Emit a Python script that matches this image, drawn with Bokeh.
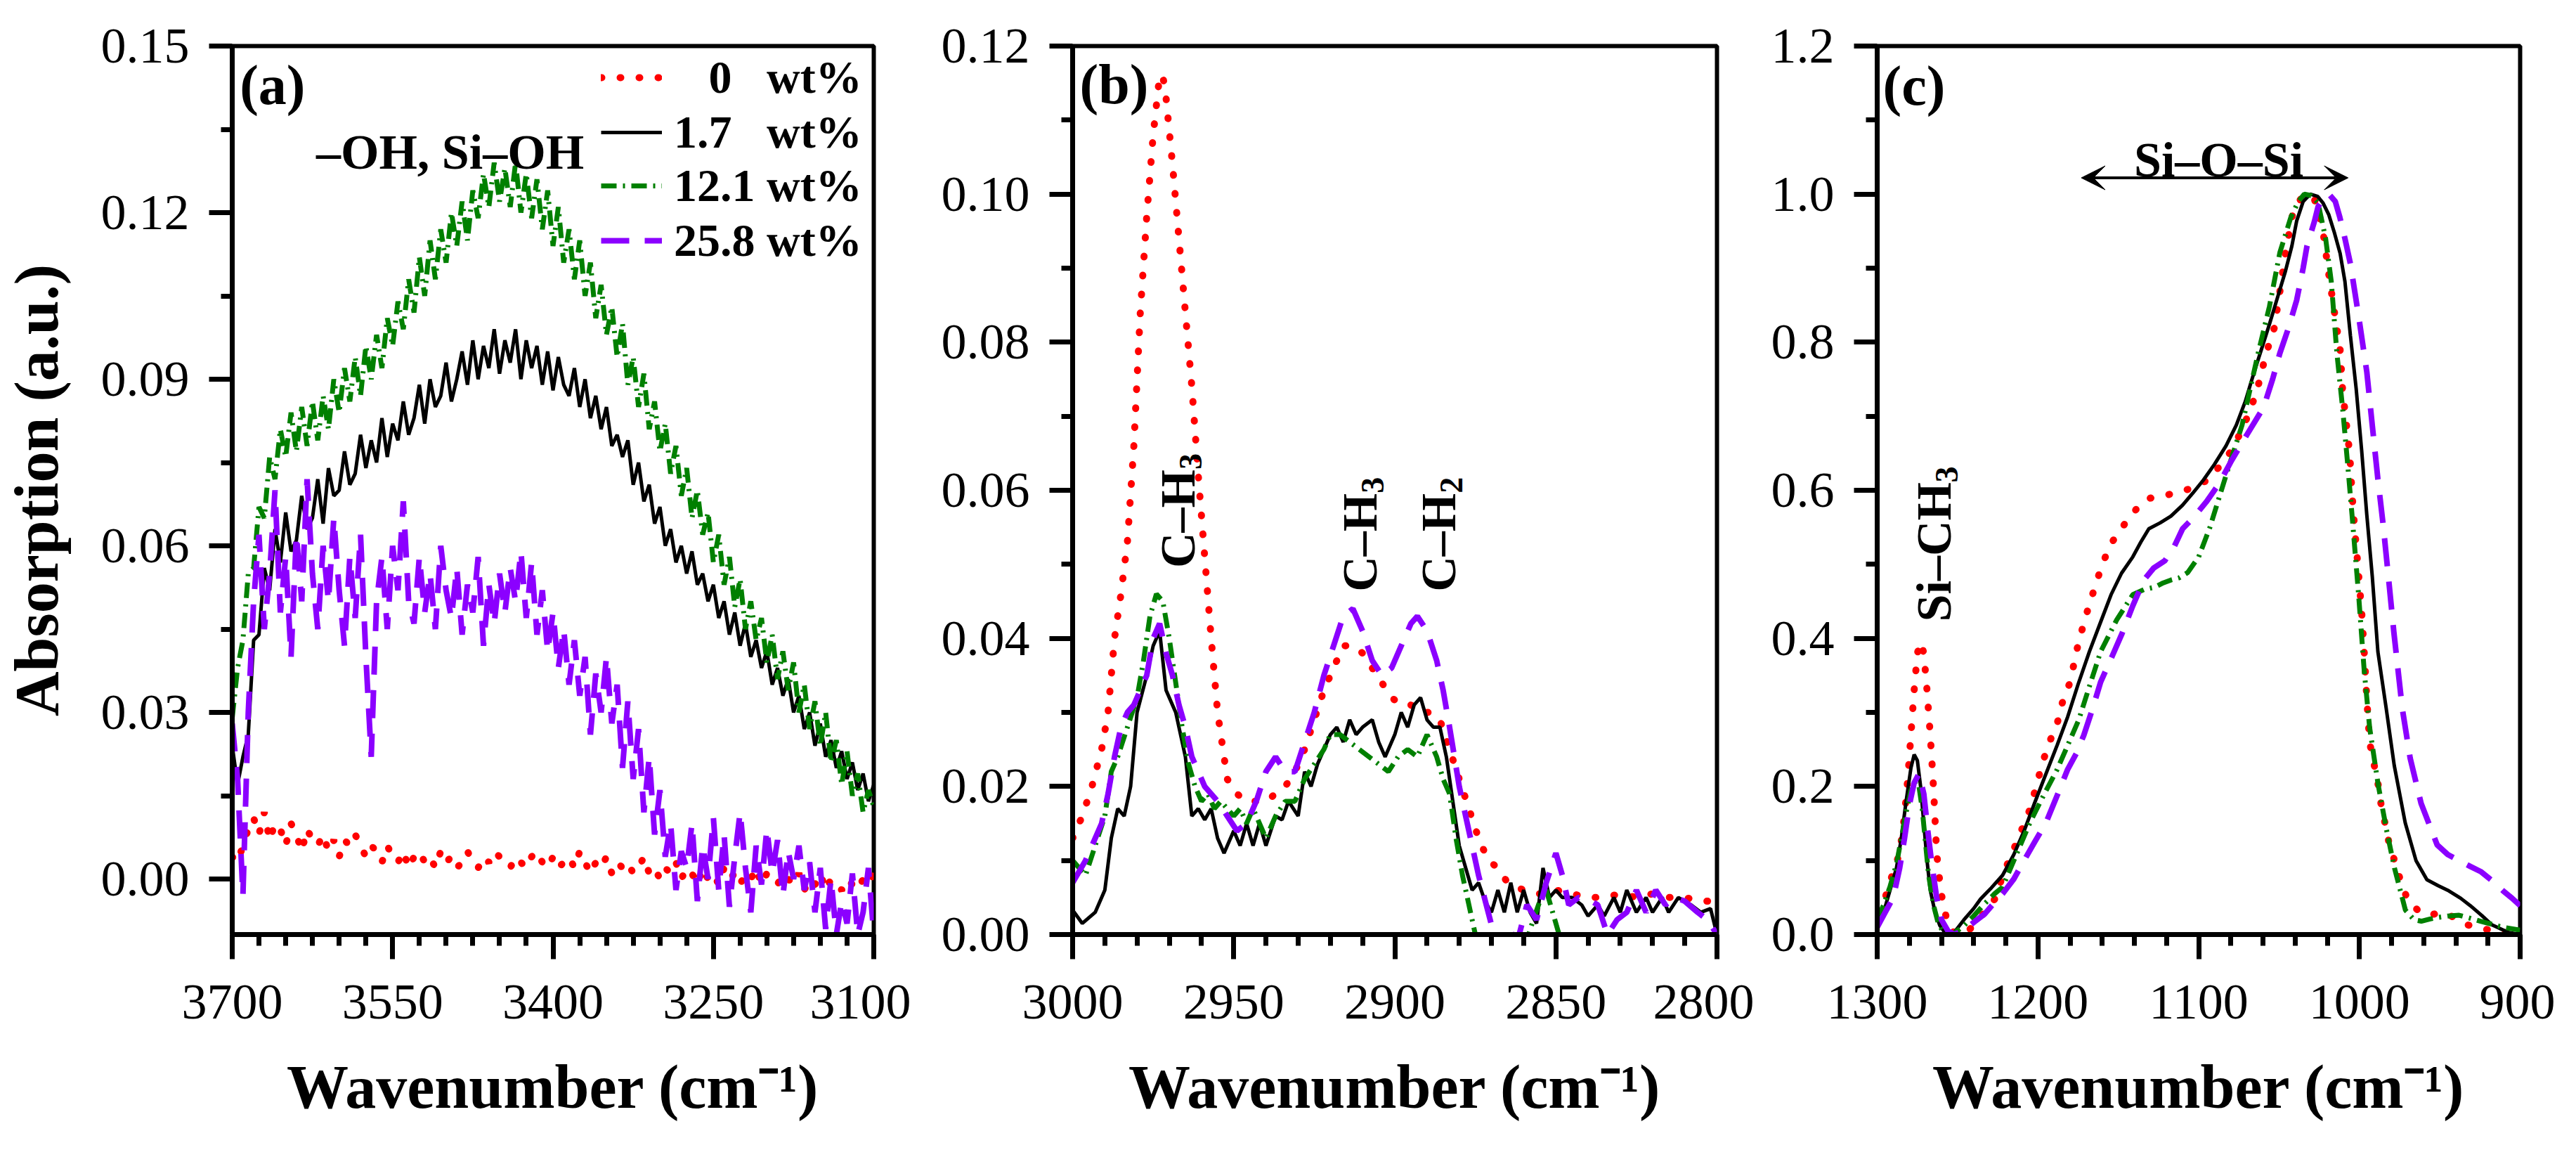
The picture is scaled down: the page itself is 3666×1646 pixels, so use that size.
from math import pi
from bokeh.plotting import figure
from bokeh.layouts import row
from bokeh.models import (Range1d, FixedTicker, PrintfTickFormatter, Legend, LegendItem,
                          Label, Arrow, VeeHead)
from bokeh.embed import file_html
from bokeh.resources import INLINE

FONT = "Liberation Serif"

# ---------------- panel (a): 3700-3100 cm-1 ----------------
wn_a = [3700, 3695, 3690, 3685, 3680, 3675, 3670, 3665, 3660, 3655,
        3650, 3645, 3640, 3635, 3630, 3625, 3620, 3615, 3610, 3605,
        3600, 3595, 3590, 3585, 3580, 3575, 3570, 3565, 3560, 3555,
        3550, 3545, 3540, 3535, 3530, 3525, 3520, 3515, 3510, 3505,
        3500, 3495, 3490, 3485, 3480, 3475, 3470, 3465, 3460, 3455,
        3450, 3445, 3440, 3435, 3430, 3425, 3420, 3415, 3410, 3405,
        3400, 3395, 3390, 3385, 3380, 3375, 3370, 3365, 3360, 3355,
        3350, 3345, 3340, 3335, 3330, 3325, 3320, 3315, 3310, 3305,
        3300, 3295, 3290, 3285, 3280, 3275, 3270, 3265, 3260, 3255,
        3250, 3245, 3240, 3235, 3230, 3225, 3220, 3215, 3210, 3205,
        3200, 3195, 3190, 3185, 3180, 3175, 3170, 3165, 3160, 3155,
        3150, 3145, 3140, 3135, 3130, 3125, 3120, 3115, 3110, 3105,
        3100]
a_0 = [0.004, 0.003, 0.006, 0.009, 0.011, 0.008, 0.012, 0.007, 0.010, 0.009,
       0.006, 0.010, 0.008, 0.005, 0.009, 0.007, 0.006, 0.008, 0.005, 0.007,
       0.004, 0.007, 0.006, 0.008, 0.006, 0.004, 0.006, 0.005, 0.003, 0.006,
       0.004, 0.003, 0.005, 0.002, 0.004, 0.005, 0.003, 0.004, 0.002, 0.005,
       0.003, 0.004, 0.002, 0.003, 0.005, 0.003, 0.002, 0.004, 0.003, 0.005,
       0.004, 0.003, 0.002, 0.004, 0.003, 0.002, 0.004, 0.005, 0.003, 0.002,
       0.004, 0.002, 0.003, 0.004, 0.002, 0.005, 0.003, 0.001, 0.003, 0.002,
       0.004, 0.001, 0.003, 0.002, 0.003, 0.001, 0.002, 0.004, 0.001, 0.002,
       0.000, 0.002, 0.001, 0.003, 0.000, 0.002, 0.001, -0.001, 0.002, 0.000,
       0.001, -0.001, 0.002, 0.000, 0.001, -0.001, 0.001, 0.000, 0.002, -0.001,
       0.001, 0.000, -0.001, 0.001, 0.000, -0.001, 0.001, -0.002, 0.000, -0.001,
       0.001, -0.002, 0.000, -0.001, -0.002, 0.000, -0.001, -0.002, 0.000, -0.001,
       0.001]
a_17 = [0.024, 0.017, 0.022, 0.026, 0.043, 0.044, 0.056, 0.052, 0.063, 0.057,
        0.066, 0.059, 0.061, 0.069, 0.063, 0.065, 0.072, 0.064, 0.074, 0.069,
        0.070, 0.077, 0.071, 0.073, 0.080, 0.074, 0.079, 0.075, 0.083, 0.076,
        0.082, 0.079, 0.086, 0.080, 0.083, 0.089, 0.082, 0.090, 0.085, 0.087,
        0.093, 0.086, 0.090, 0.095, 0.089, 0.097, 0.090, 0.096, 0.092, 0.099,
        0.091, 0.097, 0.093, 0.099, 0.090, 0.097, 0.092, 0.096, 0.089, 0.095,
        0.088, 0.094, 0.089, 0.087, 0.092, 0.085, 0.090, 0.083, 0.087, 0.081,
        0.085, 0.078, 0.080, 0.076, 0.079, 0.071, 0.075, 0.068, 0.071, 0.064,
        0.067, 0.060, 0.063, 0.057, 0.060, 0.055, 0.059, 0.053, 0.055, 0.050,
        0.053, 0.047, 0.050, 0.044, 0.048, 0.042, 0.046, 0.040, 0.043, 0.038,
        0.041, 0.035, 0.038, 0.033, 0.036, 0.030, 0.033, 0.027, 0.030, 0.024,
        0.028, 0.022, 0.025, 0.020, 0.023, 0.018, 0.021, 0.016, 0.019, 0.014,
        0.017]
a_121 = [0.029, 0.038, 0.043, 0.055, 0.056, 0.067, 0.065, 0.076, 0.072, 0.081,
         0.076, 0.084, 0.077, 0.085, 0.078, 0.086, 0.079, 0.087, 0.081, 0.090,
         0.084, 0.092, 0.086, 0.094, 0.087, 0.096, 0.090, 0.098, 0.092, 0.101,
         0.096, 0.104, 0.099, 0.108, 0.102, 0.112, 0.105, 0.115, 0.108, 0.117,
         0.111, 0.120, 0.114, 0.122, 0.115, 0.124, 0.119, 0.127, 0.121, 0.129,
         0.122, 0.128, 0.121, 0.129, 0.120, 0.127, 0.119, 0.126, 0.117, 0.124,
         0.114, 0.121, 0.111, 0.117, 0.108, 0.115, 0.105, 0.111, 0.101, 0.107,
         0.098, 0.103, 0.094, 0.100, 0.089, 0.094, 0.085, 0.091, 0.081, 0.086,
         0.077, 0.082, 0.073, 0.078, 0.069, 0.074, 0.065, 0.070, 0.062, 0.066,
         0.057, 0.062, 0.053, 0.058, 0.049, 0.054, 0.045, 0.050, 0.043, 0.047,
         0.039, 0.044, 0.036, 0.041, 0.034, 0.039, 0.030, 0.035, 0.027, 0.032,
         0.024, 0.030, 0.021, 0.025, 0.017, 0.023, 0.015, 0.019, 0.012, 0.016,
         0.013]
a_258 = [0.028, 0.018, -0.003, 0.030, 0.050, 0.062, 0.045, 0.055, 0.070, 0.048,
         0.058, 0.040, 0.062, 0.050, 0.072, 0.055, 0.045, 0.060, 0.050, 0.065,
         0.052, 0.042, 0.058, 0.047, 0.062, 0.040, 0.022, 0.050, 0.058, 0.045,
         0.060, 0.052, 0.068, 0.050, 0.046, 0.058, 0.048, 0.055, 0.045, 0.060,
         0.052, 0.047, 0.056, 0.044, 0.053, 0.048, 0.058, 0.042, 0.053, 0.046,
         0.055, 0.048, 0.056, 0.050, 0.059, 0.047, 0.057, 0.044, 0.052, 0.041,
         0.048, 0.038, 0.045, 0.035, 0.043, 0.033, 0.040, 0.026, 0.037, 0.030,
         0.040, 0.028, 0.035, 0.020, 0.032, 0.018, 0.027, 0.012, 0.022, 0.008,
         0.016, 0.004, 0.010, -0.002, 0.005, 0.002, 0.010, -0.004, 0.006, 0.000,
         0.011, -0.002, 0.008, -0.005, 0.004, 0.012, 0.002, -0.006, 0.006, -0.001,
         0.009, 0.001, 0.007, -0.003, 0.005, 0.000, 0.006, -0.002, 0.003, -0.006,
         0.002, -0.009, 0.000, -0.010, -0.004, -0.008, 0.001, -0.010, -0.006, 0.002,
         -0.010]

# ---------------- panel (b): 3000-2800 cm-1 ----------------
b_wn_0 = [3000, 2997, 2994, 2991, 2989, 2987, 2985, 2983, 2981, 2979, 2977, 2975, 2973, 2972, 2971,
          2969, 2967, 2965, 2963, 2961, 2959, 2957, 2955, 2952, 2949, 2946, 2943, 2940, 2937, 2934,
          2931, 2928, 2925, 2922, 2919, 2916, 2913, 2910, 2907, 2904, 2901, 2898, 2895, 2892, 2889,
          2886, 2883, 2880, 2877, 2874, 2871, 2868, 2865, 2860, 2855, 2850, 2845, 2840, 2835, 2830,
          2825, 2820, 2815, 2810, 2805, 2800]
b_abs_0 = [0.013, 0.016, 0.020, 0.025, 0.030, 0.040, 0.046, 0.053, 0.066, 0.084, 0.097, 0.108, 0.116, 0.116, 0.113,
           0.104, 0.094, 0.084, 0.074, 0.062, 0.051, 0.040, 0.030, 0.021, 0.019, 0.018, 0.018, 0.018, 0.019, 0.020,
           0.022, 0.025, 0.029, 0.033, 0.036, 0.039, 0.039, 0.038, 0.036, 0.034, 0.032, 0.031, 0.031, 0.030, 0.030,
           0.029, 0.025, 0.021, 0.017, 0.013, 0.010, 0.009, 0.007, 0.006, 0.0055, 0.006, 0.0055, 0.005, 0.005, 0.0055,
           0.005, 0.0055, 0.005, 0.005, 0.0045, 0.0045]
b_wn_17 = [3000, 2997, 2993, 2990, 2988, 2986, 2984, 2982, 2980, 2977, 2975, 2973, 2971, 2968, 2965,
           2963, 2961, 2959, 2957, 2955, 2953, 2950, 2948, 2946, 2944, 2942, 2940, 2937, 2935, 2933,
           2930, 2928, 2926, 2924, 2922, 2920, 2918, 2916, 2914, 2912, 2910, 2907, 2905, 2903, 2900,
           2898, 2896, 2894, 2892, 2890, 2888, 2886, 2884, 2882, 2880, 2878, 2876, 2874, 2872, 2870,
           2868, 2866, 2864, 2862, 2860, 2858, 2856, 2854, 2852, 2850, 2848, 2845, 2842, 2840, 2837,
           2835, 2832, 2830, 2828, 2825, 2822, 2820, 2817, 2815, 2812, 2808, 2805, 2802, 2800]
b_abs_17 = [0.0033, 0.0015, 0.003, 0.006, 0.013, 0.017, 0.016, 0.020, 0.030, 0.035, 0.039, 0.041, 0.033, 0.030, 0.024,
            0.016, 0.017, 0.0155, 0.017, 0.013, 0.011, 0.014, 0.012, 0.015, 0.012, 0.015, 0.012, 0.016, 0.0155, 0.018,
            0.016, 0.022, 0.020, 0.023, 0.025, 0.027, 0.028, 0.026, 0.029, 0.027, 0.028, 0.029, 0.026, 0.024, 0.027,
            0.030, 0.028, 0.031, 0.032, 0.029, 0.028, 0.028, 0.024, 0.018, 0.012, 0.009, 0.006, 0.007, 0.0045, 0.003,
            0.006, 0.003, 0.007, 0.003, 0.006, 0.003, 0.0015, 0.009, 0.005, 0.006, 0.005, 0.005, 0.004, 0.0025, 0.004,
            0.0025, 0.005, 0.003, 0.006, 0.003, 0.005, 0.003, 0.005, 0.003, 0.005, 0.004, 0.003, 0.0035, 0.0]
b_wn_121 = [3000, 2996, 2993, 2990, 2988, 2986, 2983, 2980, 2978, 2976, 2974, 2972, 2970, 2968, 2966,
            2964, 2962, 2960, 2958, 2956, 2954, 2950, 2948, 2946, 2944, 2942, 2940, 2937, 2934, 2931,
            2928, 2925, 2922, 2920, 2917, 2914, 2911, 2908, 2905, 2902, 2899, 2896, 2893, 2890, 2887,
            2885, 2883, 2881, 2879, 2877, 2875, 2873, 2870, 2865, 2860, 2857, 2855, 2853, 2851, 2849,
            2847, 2840, 2830, 2820, 2810, 2800]
b_abs_121 = [0.010, 0.008, 0.012, 0.016, 0.022, 0.024, 0.028, 0.032, 0.037, 0.043, 0.046, 0.045, 0.040, 0.034, 0.028,
             0.023, 0.020, 0.018, 0.019, 0.017, 0.018, 0.016, 0.017, 0.015, 0.017, 0.015, 0.013, 0.016, 0.018, 0.018,
             0.021, 0.023, 0.025, 0.027, 0.027, 0.026, 0.025, 0.024, 0.023, 0.022, 0.024, 0.025, 0.024, 0.027, 0.024,
             0.021, 0.019, 0.013, 0.008, 0.004, 0.0, -0.003, -0.005, -0.004, -0.002, 0.002, 0.0045, 0.006, 0.003, 0.0,
             -0.004, -0.006, -0.006, -0.006, -0.006, -0.006]
b_wn_258 = [3000, 2996, 2993, 2991, 2989, 2987, 2985, 2983, 2981, 2979, 2977, 2975, 2973, 2971, 2969,
            2967, 2965, 2963, 2961, 2959, 2957, 2955, 2952, 2949, 2946, 2943, 2940, 2937, 2934, 2931,
            2928, 2925, 2922, 2919, 2916, 2913, 2910, 2907, 2904, 2901, 2898, 2895, 2893, 2890, 2887,
            2885, 2883, 2880, 2877, 2874, 2871, 2868, 2865, 2862, 2859, 2856, 2853, 2850, 2848, 2846,
            2843, 2840, 2837, 2834, 2831, 2828, 2825, 2822, 2819, 2816, 2813, 2810, 2806, 2803, 2800]
b_abs_258 = [0.007, 0.010, 0.013, 0.015, 0.019, 0.024, 0.028, 0.030, 0.031, 0.033, 0.035, 0.040, 0.042, 0.038, 0.035,
             0.031, 0.028, 0.024, 0.022, 0.020, 0.019, 0.018, 0.016, 0.014, 0.015, 0.018, 0.022, 0.024, 0.022, 0.022,
             0.026, 0.030, 0.035, 0.039, 0.043, 0.044, 0.041, 0.037, 0.035, 0.036, 0.039, 0.042, 0.043, 0.041, 0.037,
             0.033, 0.028, 0.020, 0.014, 0.008, 0.003, -0.002, 0.001, -0.001, 0.004, 0.002, 0.007, 0.011, 0.008, 0.004,
             0.005, 0.0048, 0.004, 0.0, 0.002, 0.003, 0.006, 0.003, 0.006, 0.004, 0.005, 0.0045, 0.003, 0.002, 0.0]

# ---------------- panel (c): 1300-900 cm-1 ----------------
c_wn_0 = [1300, 1295, 1290, 1286, 1283, 1281, 1279, 1277, 1275, 1273, 1271, 1269, 1267, 1265, 1263,
          1261, 1259, 1256, 1253, 1249, 1245, 1240, 1235, 1230, 1226, 1222, 1217, 1212.6, 1205, 1197,
          1193, 1188, 1185, 1180, 1175, 1171.5, 1168, 1160, 1154.5, 1147.6, 1139, 1131, 1119, 1107, 1095,
          1085, 1078, 1068, 1063, 1058, 1053, 1049.5, 1046, 1041, 1036, 1032.6, 1028, 1025.7, 1022.6, 1019,
          1015.7, 1012, 1010.5, 1009, 1006, 1004.6, 1003, 1001, 998.5, 996.7, 995.3, 993.6, 988.3, 986.6, 981.7,
          978.2, 974, 969.5, 961, 955, 947.5, 942, 936, 924, 910.5, 900]
c_abs_0 = [0.03, 0.05, 0.085, 0.11, 0.16, 0.21, 0.27, 0.33, 0.38, 0.395, 0.38, 0.33, 0.27, 0.20, 0.11,
           0.07, 0.04, 0.015, 0.004, 0.0, 0.002, 0.012, 0.025, 0.04, 0.05, 0.08, 0.105, 0.128, 0.169, 0.233,
           0.259, 0.285, 0.312, 0.341, 0.392, 0.42, 0.446, 0.5, 0.528, 0.55, 0.574, 0.589, 0.594, 0.601, 0.613,
           0.637, 0.659, 0.707, 0.741, 0.785, 0.819, 0.868, 0.921, 0.979, 0.995, 1.0, 0.993, 0.979, 0.949, 0.891,
           0.843, 0.79, 0.737, 0.707, 0.649, 0.596, 0.55, 0.50, 0.433, 0.371, 0.315, 0.259, 0.202, 0.177, 0.125,
           0.1, 0.07, 0.044, 0.028, 0.027, 0.03, 0.024, 0.015, 0.008, 0.003, 0.0]
c_wn_17 = [1300, 1296, 1292, 1288, 1285, 1282, 1279, 1277, 1275, 1273, 1271, 1269, 1267, 1264, 1261,
           1258, 1255.8, 1252, 1246, 1240, 1235.7, 1229, 1222, 1215, 1208.6, 1202, 1195, 1188, 1181.5, 1175,
           1168, 1161, 1154.5, 1148, 1141, 1136, 1131, 1124, 1117.3, 1110, 1103.7, 1097, 1090.2, 1083, 1076.6,
           1071, 1066, 1061, 1056, 1051, 1046, 1042, 1039, 1035, 1030.6, 1026, 1022.6, 1019, 1015.7, 1012,
           1009, 1005.6, 1002, 998.6, 995.4, 992, 988.5, 983.3, 978.3, 971.5, 964.8, 958, 951, 944.4, 937,
           931, 924, 917.5, 907.5, 900]
c_abs_17 = [0.01, 0.03, 0.06, 0.09, 0.13, 0.18, 0.225, 0.243, 0.235, 0.2, 0.15, 0.1, 0.06, 0.03, 0.012,
            0.003, 0.0, 0.003, 0.02, 0.035, 0.048, 0.063, 0.08, 0.108, 0.14, 0.178, 0.217, 0.256, 0.294, 0.338,
            0.382, 0.422, 0.459, 0.488, 0.51, 0.53, 0.548, 0.556, 0.565, 0.58, 0.596, 0.614, 0.635, 0.66, 0.688,
            0.72, 0.756, 0.79, 0.824, 0.86, 0.896, 0.93, 0.964, 0.99, 1.0, 0.997, 0.988, 0.972, 0.949, 0.92,
            0.882, 0.809, 0.737, 0.654, 0.567, 0.484, 0.382, 0.305, 0.228, 0.151, 0.1, 0.074, 0.066, 0.059, 0.049,
            0.039, 0.026, 0.013, 0.003, 0.0]
c_wn_121 = [1300, 1296, 1292, 1288, 1285, 1282, 1279, 1276, 1274, 1272, 1270, 1268, 1265, 1262, 1259,
            1256, 1252, 1246, 1240, 1233, 1227, 1222, 1214, 1205, 1196, 1188, 1181, 1174.6, 1168, 1161,
            1151, 1141, 1134, 1127.4, 1122, 1117, 1112, 1106.8, 1100, 1093, 1083, 1073, 1063, 1056, 1049.5,
            1042.6, 1038, 1034.3, 1030, 1025.7, 1021, 1017.5, 1014, 1010.5, 1007.5, 1004.6, 1000.5, 997, 993.6, 988.3,
            983, 978.2, 974, 971.4, 966, 961.5, 956, 951.5, 945, 938, 931, 924.6, 911, 900]
c_abs_121 = [0.02, 0.04, 0.065, 0.095, 0.13, 0.165, 0.195, 0.207, 0.2, 0.17, 0.125, 0.08, 0.04, 0.015, 0.004,
             0.0, 0.002, 0.012, 0.025, 0.042, 0.055, 0.064, 0.105, 0.151, 0.19, 0.223, 0.258, 0.29, 0.335, 0.382,
             0.425, 0.459, 0.466, 0.469, 0.475, 0.479, 0.482, 0.489, 0.51, 0.55, 0.62, 0.688, 0.785, 0.848, 0.921,
             0.969, 0.99, 1.0, 0.998, 0.988, 0.94, 0.882, 0.785, 0.712, 0.64, 0.567, 0.459, 0.356, 0.279, 0.202,
             0.14, 0.09, 0.055, 0.033, 0.02, 0.018, 0.021, 0.023, 0.025, 0.026, 0.022, 0.018, 0.01, 0.006]
c_wn_258 = [1300, 1295, 1290, 1286, 1283, 1280, 1277, 1274, 1271, 1268.5, 1266.3, 1263, 1260, 1256, 1252,
            1246, 1239, 1233, 1228.7, 1222, 1215, 1208.6, 1202, 1195, 1188, 1181.5, 1176, 1171.5, 1166, 1161,
            1154, 1147.6, 1141, 1134, 1128, 1121, 1115, 1110, 1103.7, 1095, 1087, 1079.6, 1070, 1059.6, 1054,
            1049.5, 1044, 1039, 1035, 1032.6, 1028, 1025.7, 1022, 1019, 1015, 1012.2, 1009, 1005.6, 1000.4, 995.4,
            992, 988.5, 985.2, 982, 978.5, 973.3, 968.4, 961.6, 951.6, 945, 938, 931, 924.5, 917, 910.6,
            905, 900]
c_abs_258 = [0.01, 0.03, 0.05, 0.09, 0.13, 0.175, 0.205, 0.217, 0.19, 0.14, 0.1, 0.05, 0.02, 0.005, 0.0,
             0.006, 0.018, 0.028, 0.039, 0.055, 0.075, 0.1, 0.125, 0.151, 0.188, 0.223, 0.245, 0.269, 0.305, 0.341,
             0.375, 0.407, 0.444, 0.479, 0.495, 0.505, 0.525, 0.548, 0.562, 0.585, 0.61, 0.64, 0.675, 0.712, 0.75,
             0.785, 0.82, 0.857, 0.9, 0.93, 0.963, 0.983, 0.995, 1.0, 0.99, 0.969, 0.94, 0.906, 0.834, 0.76,
             0.688, 0.615, 0.553, 0.484, 0.407, 0.305, 0.238, 0.177, 0.121, 0.108, 0.1, 0.092, 0.085, 0.072, 0.059,
             0.049, 0.039]

labels = ["\u00a0\u00a0\u00a00\u00a0\u00a0\u00a0wt%", "1.7\u00a0\u00a0\u00a0wt%",
          "12.1\u00a0wt%", "25.8\u00a0wt%"]

styles = [
    dict(line_color="#ff0000", line_width=10, line_dash="1 26", line_cap="round"),
    dict(line_color="#000000", line_width=5),
    dict(line_color="#008000", line_width=7, line_dash="22 9 3 9"),
    dict(line_color="#8b00ff", line_width=8, line_dash="40 22"),
]


def make_fig(xr, yr, xt, xm, yt, ym, yfmt, left, right, fw, ylabel=""):
    p = figure(frame_width=fw, frame_height=1264,
               x_range=Range1d(xr[0], xr[1]), y_range=Range1d(yr[0], yr[1]),
               output_backend="svg", toolbar_location=None,
               min_border_left=left, min_border_right=right,
               min_border_top=65, min_border_bottom=301)
    p.xgrid.visible = False
    p.ygrid.visible = False
    p.outline_line_color = "black"
    p.outline_line_width = 6
    p.outline_line_alpha = 1.0
    p.background_fill_color = "white"
    p.border_fill_color = "white"
    p.xaxis.ticker = FixedTicker(ticks=xt, minor_ticks=xm)
    p.yaxis.ticker = FixedTicker(ticks=yt, minor_ticks=ym)
    p.yaxis.formatter = PrintfTickFormatter(format=yfmt)
    for ax in (p.xaxis[0], p.yaxis[0]):
        ax.axis_line_width = 7
        ax.major_tick_line_width = 7
        ax.minor_tick_line_width = 7
        ax.major_tick_line_color = "black"
        ax.minor_tick_line_color = "black"
        ax.major_tick_in = 0
        ax.minor_tick_in = 0
        ax.major_label_text_font = FONT
        ax.major_label_text_font_size = "72px"
        ax.major_label_text_color = "black"
        ax.axis_label_text_font = FONT
        ax.axis_label_text_font_style = "bold"
        ax.axis_label_text_font_size = "88px"
        ax.axis_label_text_color = "black"
    p.xaxis.major_tick_out = 35
    p.xaxis.minor_tick_out = 16
    p.yaxis.major_tick_out = 33
    p.yaxis.minor_tick_out = 16
    p.xaxis.major_label_standoff = 37
    p.yaxis.major_label_standoff = 28
    p.xaxis.axis_label = "Wavenumber (cm\u207b\u00b9)"
    p.xaxis.axis_label_standoff = 46
    if ylabel:
        p.yaxis.axis_label = ylabel
        p.yaxis.axis_label_standoff = 40
    return p


def label(p, x, y, text, size, **kw):
    p.add_layout(Label(x=x, y=y, text=text, text_font=FONT, text_font_style="bold",
                       text_font_size=size, text_color="black", **kw))


# ---- panel (a)
pa = make_fig((3700, 3100), (-0.01, 0.15), [3700, 3550, 3400, 3250, 3100],
              [3675, 3650, 3625, 3600, 3575, 3525, 3500, 3475, 3450, 3425, 3375, 3350, 3325,
               3300, 3275, 3225, 3200, 3175, 3150, 3125],
              [0.0, 0.03, 0.06, 0.09, 0.12, 0.15], [0.015, 0.045, 0.075, 0.105, 0.135],
              "%.2f", 326, 53, 913, ylabel="Absorption (a.u.)")
rs = []
for ys, st in zip([a_0, a_17, a_121, a_258], styles):
    rs.append(pa.line(wn_a, ys, **st))
# one single-row legend box per series so every row sits at its own height
legend_rows_y = [1181, 1103, 1027, 949]
for lab, r, ly in zip(labels, rs, legend_rows_y):
    pa.add_layout(Legend(items=[LegendItem(label=lab, renderers=[r])],
                         location=(525, ly), glyph_width=87, glyph_height=60, label_height=60,
                         label_standoff=17, spacing=0, padding=0, margin=0,
                         border_line_alpha=0, background_fill_alpha=0,
                         label_text_font=FONT, label_text_font_style="bold",
                         label_text_font_size="66px", label_text_color="black"))
label(pa, 3693, 0.1486, "(a)", "80px", text_baseline="top", text_align="left")
label(pa, 3371, 0.1309, "\u2013OH, Si\u2013OH", "70px", text_baseline="alphabetic", text_align="right")

# ---- panel (b)
pb = make_fig((3000, 2800), (0.0, 0.12), [3000, 2950, 2900, 2850, 2800],
              [2990, 2980, 2970, 2960, 2940, 2930, 2920, 2910, 2890, 2880, 2870, 2860,
               2840, 2830, 2820, 2810],
              [0.0, 0.02, 0.04, 0.06, 0.08, 0.10, 0.12], [0.01, 0.03, 0.05, 0.07, 0.09, 0.11],
              "%.2f", 230, 53, 917)
for xs, ys, st in zip([b_wn_0, b_wn_17, b_wn_121, b_wn_258],
                      [b_abs_0, b_abs_17, b_abs_121, b_abs_258], styles):
    pb.line(xs, ys, **st)
label(pb, 2997.8, 0.119, "(b)", "80px", text_baseline="top", text_align="left")
for (bx, by, sub) in [(2967.3, 0.0495, "3"), (2910.8, 0.0463, "3"), (2886.4, 0.0463, "2")]:
    label(pb, bx, by, "C\u2013H", "70px", angle=pi / 2, text_baseline="alphabetic", text_align="left")
    label(pb, bx - 3.9, by + 0.0133, sub, "46px", angle=pi / 2,
          text_baseline="alphabetic", text_align="left")

# ---- panel (c)
pc = make_fig((1300, 900), (0.0, 1.2), [1300, 1200, 1100, 1000, 900],
              [1280, 1260, 1240, 1220, 1180, 1160, 1140, 1120, 1080, 1060, 1040, 1020,
               980, 960, 940, 920],
              [0.0, 0.2, 0.4, 0.6, 0.8, 1.0, 1.2], [0.1, 0.3, 0.5, 0.7, 0.9, 1.1],
              "%.1f", 175, 50, 915)
for xs, ys, st in zip([c_wn_0, c_wn_17, c_wn_121, c_wn_258],
                      [c_abs_0, c_abs_17, c_abs_121, c_abs_258], styles):
    pc.line(xs, ys, **st)
label(pc, 1296.5, 1.188, "(c)", "80px", text_baseline="top", text_align="left")
label(pc, 1264.6, 0.4225, "Si\u2013CH", "70px", angle=pi / 2, text_baseline="alphabetic", text_align="left")
label(pc, 1264.6 - 7.9, 0.4225 + 0.188, "3", "46px", angle=pi / 2,
      text_baseline="alphabetic", text_align="left")
label(pc, 1087.5, 1.046, "Si\u2013O\u2013Si", "70px", text_baseline="alphabetic", text_align="center")
pc.add_layout(Arrow(x_start=1173, y_start=1.022, x_end=1007, y_end=1.022, line_width=4,
                    line_color="black",
                    start=VeeHead(size=34, line_color="black", fill_color="black", line_width=1),
                    end=VeeHead(size=34, line_color="black", fill_color="black", line_width=1)))

layout = row(pa, pb, pc)
open("out.html", "w").write(file_html(layout, INLINE))
